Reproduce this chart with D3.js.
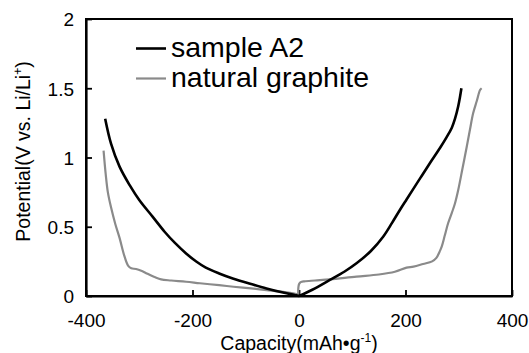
<!DOCTYPE html>
<html><head><meta charset="utf-8">
<script src="https://cdn.jsdelivr.net/npm/d3@7"></script>
<style>
html,body{margin:0;padding:0;background:#fff;}
svg{display:block;font-family:"Liberation Sans",Arial,Helvetica,sans-serif;}
</style></head>
<body>
<svg id="chart" width="529" height="353"></svg>
<script>
// ---- Data ----
const xTicks = [-400, -200, 0, 200, 400];
const xTickLabels = ["-400", "-200", "0", "200", "400"];
const yTicks = [0, 0.5, 1, 1.5, 2];
const yTickLabels = ["0", "0.5", "1", "1.5", "2"];
const seriesNames = ["sample A2", "natural graphite"];

// sample A2 - discharge (negative capacity)
const a2DisX = [-364, -353, -337, -318, -300, -275, -252, -233, -212, -193, -175, -150, -123, -90, -61, -30, -7, 0];
const a2DisY = [1.28, 1.10, 0.934, 0.80, 0.693, 0.573, 0.462, 0.383, 0.307, 0.249, 0.205, 0.163, 0.125, 0.087, 0.055, 0.025, 0.006, 0];
// sample A2 - charge (positive capacity)
const a2ChgX = [0, 25, 58, 85, 108, 135, 158, 175, 190, 202, 215, 230, 246, 265, 277, 287, 293, 299, 302, 305];
const a2ChgY = [0, 0.045, 0.116, 0.175, 0.236, 0.325, 0.428, 0.53, 0.625, 0.697, 0.775, 0.865, 0.96, 1.07, 1.145, 1.215, 1.28, 1.37, 1.43, 1.50];

// natural graphite - discharge
const ngDisX = [-367, -363, -359, -353, -345, -337, -328, -321, -315, -306, -295, -287, -270, -259, -240, -212, -186, -150, -123, -90, -61, -30, -11, -2];
const ngDisY = [1.05, 0.88, 0.75, 0.64, 0.52, 0.42, 0.29, 0.22, 0.20, 0.195, 0.18, 0.165, 0.135, 0.12, 0.112, 0.103, 0.092, 0.078, 0.067, 0.055, 0.043, 0.03, 0.019, 0.012];
// natural graphite - charge
const ngChgX = [-1.5, -1.2, 0, 2, 5, 10, 30, 58, 108, 150, 180, 202, 215, 233, 250, 258, 264, 268, 274, 280, 287, 293, 299, 307, 315, 321, 327, 334, 340, 343];
const ngChgY = [0.01, 0.06, 0.085, 0.097, 0.103, 0.106, 0.112, 0.12, 0.14, 0.155, 0.175, 0.205, 0.212, 0.231, 0.25, 0.275, 0.32, 0.356, 0.44, 0.525, 0.6, 0.67, 0.765, 0.92, 1.078, 1.2, 1.319, 1.41, 1.487, 1.50];

// ---- Drawing ----
const svg = d3.select("#chart");
const L = 86, R = 512, T = 19, B = 296;
const x = d3.scaleLinear().domain([-400, 400]).range([L, R]);
const y = d3.scaleLinear().domain([0, 2]).range([B, T]);

const zip = (xs, ys) => xs.map((v, i) => [v, ys[i]]);
const line = d3.line().x(d => x(d[0])).y(d => y(d[1])).curve(d3.curveCatmullRom.alpha(0.5));

// frame (top & right)
svg.append("rect").attr("x", L).attr("y", T).attr("width", R - L).attr("height", B - T)
  .attr("fill", "none").attr("stroke", "#000").attr("stroke-width", 2);

// axes with inward ticks
const xAxis = d3.axisBottom(x).tickValues(xTicks).tickSizeInner(-6).tickSizeOuter(0).tickPadding(12)
  .tickFormat((d, i) => xTickLabels[i]);
const gx = svg.append("g").attr("transform", `translate(0,${B})`).call(xAxis);
gx.select(".domain").attr("stroke-width", 2.2);
gx.selectAll(".tick line").attr("stroke-width", 1.8);
gx.selectAll(".tick text").attr("font-size", 19).attr("font-family", "Liberation Sans, Arial, sans-serif").attr("fill", "#000")
  .attr("y", 31).attr("dy", null);

const yAxis = d3.axisLeft(y).tickValues(yTicks).tickSizeInner(-6).tickSizeOuter(0).tickPadding(12)
  .tickFormat((d, i) => yTickLabels[i]);
const gy = svg.append("g").attr("transform", `translate(${L},0)`).call(yAxis);
gy.select(".domain").attr("stroke-width", 2.2);
gy.selectAll(".tick line").attr("stroke-width", 1.8);
gy.selectAll(".tick text").attr("font-size", 19).attr("font-family", "Liberation Sans, Arial, sans-serif").attr("fill", "#000")
  .attr("x", -12).attr("dy", "0.36em");

// curves
const gray = "#8a8a8a";
svg.append("path").attr("d", line(zip(ngDisX, ngDisY))).attr("fill", "none").attr("stroke", gray).attr("stroke-width", 2.2);
svg.append("path").attr("d", line(zip(ngChgX, ngChgY))).attr("fill", "none").attr("stroke", gray).attr("stroke-width", 2.2);
svg.append("path").attr("d", line(zip(a2DisX, a2DisY))).attr("fill", "none").attr("stroke", "#000").attr("stroke-width", 2.6);
svg.append("path").attr("d", line(zip(a2ChgX, a2ChgY))).attr("fill", "none").attr("stroke", "#000").attr("stroke-width", 2.6);

// legend
const legColors = ["#000", gray];
const legW = [2.6, 2.2];
seriesNames.forEach((name, i) => {
  const cy = 48.5 + i * 30;
  svg.append("line").attr("x1", 136).attr("x2", 166).attr("y1", cy).attr("y2", cy)
    .attr("stroke", legColors[i]).attr("stroke-width", legW[i]);
  svg.append("text").attr("x", 171).attr("y", cy + 8).attr("font-size", 28.5).attr("fill", "#000").text(name);
});

// x-axis title
const xt = svg.append("text").attr("x", x(0)).attr("y", 350).attr("text-anchor", "middle").attr("font-size", 19.5).attr("fill", "#000");
xt.append("tspan").text("Capacity(mAh\u2022g");
xt.append("tspan").attr("font-size", 12).attr("dy", -8).text("-1");
xt.append("tspan").attr("dy", 8).text(")");

// y-axis title
const yt = svg.append("text").attr("transform", `translate(29.5,${(T + B) / 2 - 6}) rotate(-90)`)
  .attr("text-anchor", "middle").attr("font-size", 19.5).attr("fill", "#000");
yt.append("tspan").text("Potential(V vs. Li/Li");
yt.append("tspan").attr("font-size", 12).attr("dy", -8).text("+");
yt.append("tspan").attr("dy", 8).text(")");
</script>
</body></html>
